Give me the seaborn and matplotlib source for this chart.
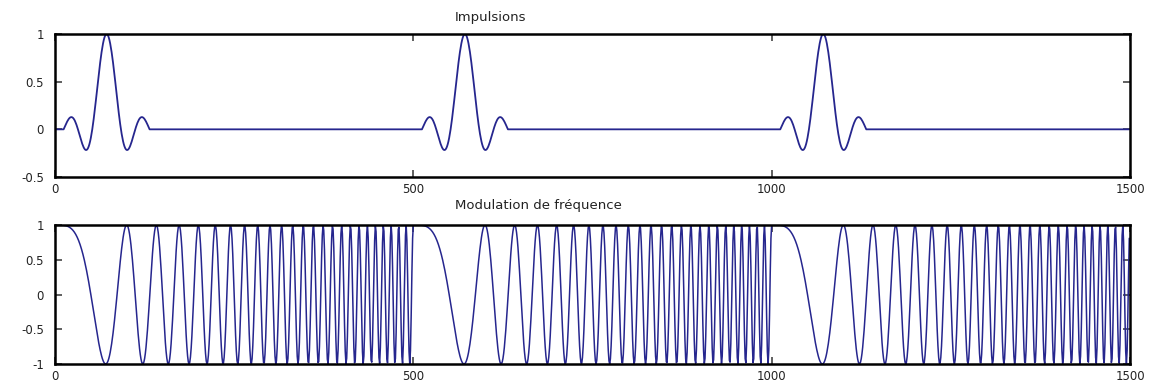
import numpy as np
import pandas as pd
import matplotlib
matplotlib.use("Agg")
import matplotlib.pyplot as plt
import seaborn as sns

# Signal parameters
n_samples = 1500
pulse_centers = [72, 572, 1072]      # sample index of each pulse peak
pulse_half_width = 60                 # pulse support: centre +/- this
sinc_lobe_width = 20                  # samples between sinc zero crossings
chirp_segment_length = 500            # chirp restarts every segment
chirp_end_freq = 0.1                  # cycles per sample at end of a segment

x_ticks = [0, 500, 1000, 1500]
top_yticks = [-0.5, 0, 0.5, 1]
bottom_yticks = [-1, -0.5, 0, 0.5, 1]
top_title = "Impulsions"
bottom_title = "Modulation de fréquence"

t = np.arange(n_samples)

# Truncated sinc pulses
impulses = np.zeros(n_samples)
for c in pulse_centers:
    m = np.abs(t - c) <= pulse_half_width
    impulses[m] = np.sinc((t[m] - c) / sinc_lobe_width)

# Linear chirp, repeated per segment
tau = t % chirp_segment_length
chirp = np.cos(np.pi * chirp_end_freq / chirp_segment_length * tau ** 2)

df = pd.DataFrame({"t": t, "impulses": impulses, "chirp": chirp})

sns.set_theme(style="white")
plt.rcParams["font.family"] = ["DejaVu Sans"]

W, H = 1149, 387
fig = plt.figure(figsize=(W / 100, H / 100), dpi=100)

def px_axes(left, top, right, bottom):
    return fig.add_axes([left / W, 1 - bottom / H, (right - left) / W, (bottom - top) / H])

ax1 = px_axes(55, 34, 1130, 177)
ax2 = px_axes(55, 225, 1130, 364)

line_color = "#26268e"
sns.lineplot(data=df, x="t", y="impulses", ax=ax1, color=line_color,
             linewidth=1.3, estimator=None, sort=False)
sns.lineplot(data=df, x="t", y="chirp", ax=ax2, color=line_color,
             linewidth=1.1, estimator=None, sort=False)

for ax, yt, ylim in ((ax1, top_yticks, (-0.5, 1)), (ax2, bottom_yticks, (-1, 1))):
    ax.set_xlim(0, 1500)
    ax.set_ylim(*ylim)
    ax.set_xticks(x_ticks)
    ax.set_xticklabels([str(v) for v in x_ticks])
    ax.set_yticks(yt)
    ax.set_yticklabels([("%g" % v) for v in yt])
    ax.set_xlabel("")
    ax.set_ylabel("")
    for s in ax.spines.values():
        s.set_color("black")
        s.set_linewidth(1.8)
    ax.tick_params(direction="in", length=5, width=1.2, color="#444444",
                   top=True, right=True, bottom=True, left=True,
                   labelsize=8.5, labelcolor="#222222")
    ax.tick_params(axis="x", pad=4)
    ax.tick_params(axis="y", pad=8)

fig.text(455 / W, 1 - 18 / H, top_title, ha="left", va="center",
         fontsize=9.5, color="#222222")
fig.text(455 / W, 1 - 206 / H, bottom_title, ha="left", va="center",
         fontsize=9.5, color="#222222")

fig.savefig("out.png", dpi=100, facecolor="white")
